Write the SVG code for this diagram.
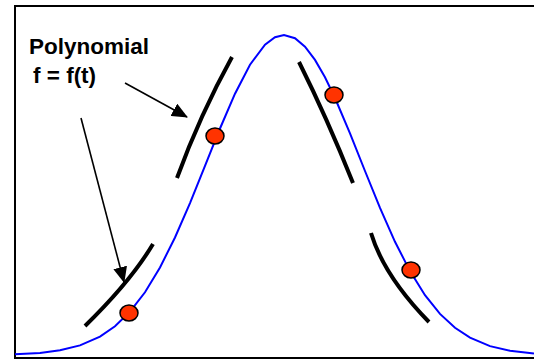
<svg xmlns="http://www.w3.org/2000/svg" width="534" height="360" viewBox="0 0 534 360">
<defs>
<style>
.frame{fill:#fff;stroke:#000;stroke-width:2}
.curve{fill:none;stroke:#0000ff;stroke-width:2}
.poly{fill:none;stroke:#000;stroke-width:4}
.dot{fill:#ff3300;stroke:#000;stroke-width:1.5}
.arrow{fill:none;stroke:#000;stroke-width:1.6}
.label{font-family:"Liberation Sans",Arial,sans-serif;font-weight:bold;font-size:22.5px;fill:#000}
</style>
<marker id="ah" markerWidth="10" markerHeight="8" refX="9" refY="4" orient="auto" markerUnits="userSpaceOnUse" viewBox="0 0 10 8">
<path d="M0,0 L10,4 L0,8 Z" fill="#000"/>
</marker>
<marker id="ahb" markerWidth="16" markerHeight="14" refX="15" refY="7" orient="auto" markerUnits="userSpaceOnUse" viewBox="0 0 16 14">
<path d="M0,0 L16,7 L0,14 Z" fill="#000"/>
</marker>
</defs>
<rect class="frame" x="15" y="6" width="530" height="352"/>
<g id="gaussian">
<polyline class="curve" points="15,354.3 40,352.9 60,350.3 80,345.4 100,336.6 115,326.2 130,311.7 145,292.3 160,267.5 175,237.5 190,203.1 205,165.9 220,128.5 235,93.7 250,64.7 265,44.6 275,37.2 284,35 295,38.2 305,46.7 315,59.9 325,77.3 335,98 350,133.4 365,171 380,207.9 395,241.8 410,271.1 425,295.2 440,313.9 455,327.8 470,337.7 490,346.1 510,350.7 534,353.4"/>
</g>
<g id="polynomials">
<path id="poly1" class="poly" d="M85,326 Q131,281 153,244"/>
<path id="poly2" class="poly" d="M177,178 Q200,115 232,57"/>
<path id="poly3" class="poly" d="M299,62 Q327,118 353,183"/>
<path id="poly4" class="poly" d="M371,233 Q384,276 429,322"/>
</g>
<g id="samples">
<ellipse class="dot" cx="129" cy="313" rx="9" ry="8"/>
<ellipse class="dot" cx="215" cy="136" rx="9" ry="8"/>
<ellipse class="dot" cx="334" cy="95" rx="9" ry="8"/>
<ellipse class="dot" cx="411" cy="270" rx="9" ry="8"/>
</g>
<g id="label">
<text class="label" x="29" y="54">Polynomial</text>
<text class="label" x="33" y="83">f = f(t)</text>
</g>
<g id="connectors">
<line class="arrow" x1="125" y1="83" x2="187" y2="117" marker-end="url(#ahb)"/>
<line class="arrow" x1="81" y1="118" x2="124" y2="282" marker-end="url(#ahb)"/>
</g>
</svg>
